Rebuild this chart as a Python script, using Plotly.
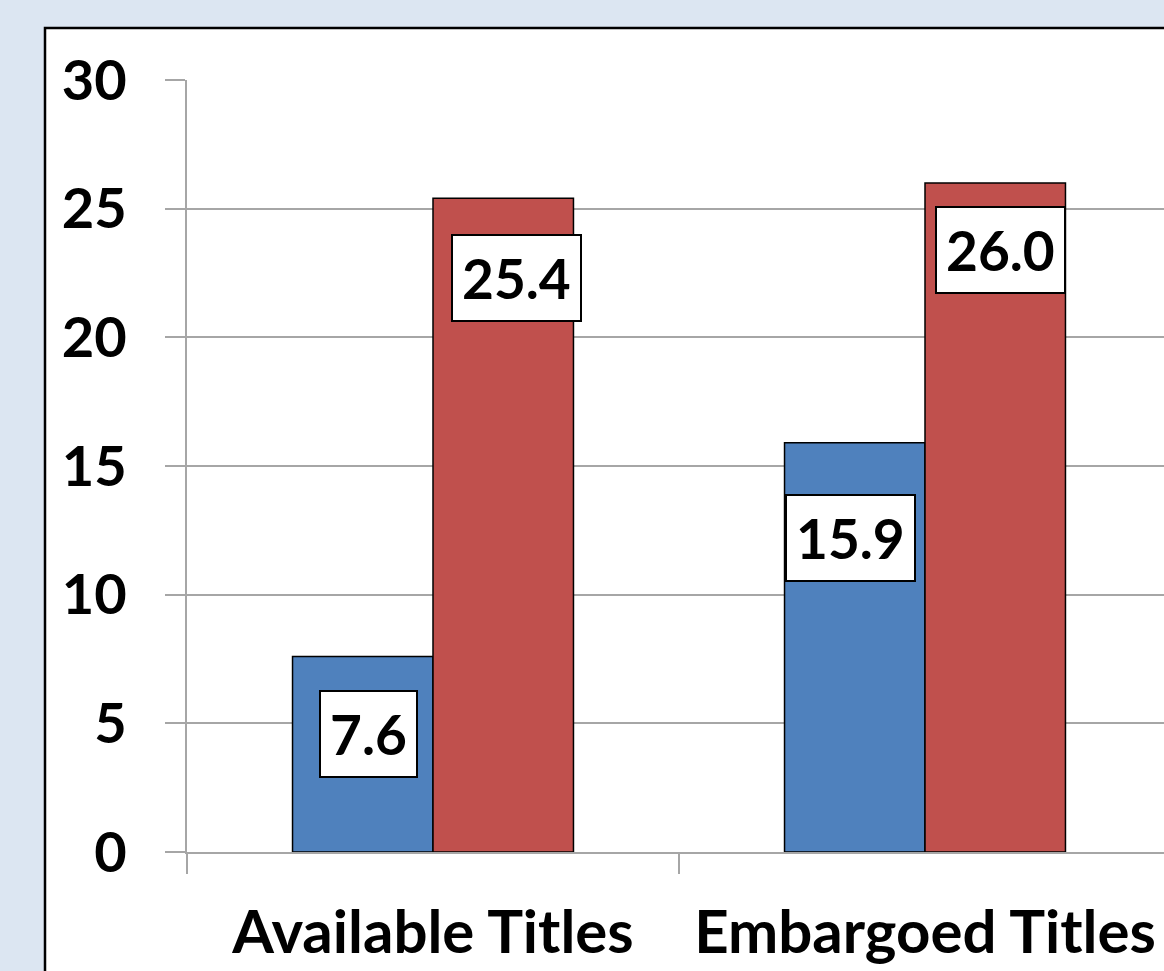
import plotly.graph_objects as go

categories = ["Available Titles", "Embargoed Titles"]
series_blue = [7.6, 15.9]
series_red = [25.4, 26.0]
y_ticks = [0, 5, 10, 15, 20, 25, 30]

BLUE = "#4f81bd"
RED = "#c0504d"
GRID = "#a6a6a6"
FONT = "Lato"

BARGAP = 0.429
bar_w = (1 - BARGAP) / 2

fig = go.Figure()
fig.add_trace(go.Bar(x=categories, y=series_blue, marker=dict(color=BLUE, line=dict(color="black", width=1.5)),
                     name="blue", showlegend=False, hoverinfo="skip"))
fig.add_trace(go.Bar(x=categories, y=series_red, marker=dict(color=RED, line=dict(color="black", width=1.5)),
                     name="red", showlegend=False, hoverinfo="skip"))

# label offsets (manual placement like the original)
label_shift = {
    ("blue", 0): (6, -34), ("blue", 1): (-4, -51),
    ("red", 0): (13, -36), ("red", 1): (5, -23),
}
for name, vals, off in [("blue", series_blue, -bar_w / 2), ("red", series_red, bar_w / 2)]:
    for i, v in enumerate(vals):
        xs, ys = label_shift[(name, i)]
        fig.add_annotation(x=i + off, y=v, xref="x", yref="y", text=f"{v:.1f}",
                           showarrow=False, xanchor="center", yanchor="top",
                           xshift=xs, yshift=ys,
                           font=dict(family=FONT, size=55, color="black", weight="bold"),
                           bgcolor="white", bordercolor="black", borderwidth=2, borderpad=9)

# chart area (white box with black border)
W, H = 1164, 971
L, R, T, B = 187, 0, 80, 119
pw, ph = W - L - R, H - T - B
fig.add_shape(type="rect", xref="paper", yref="paper",
              x0=(45 - L) / pw, x1=1.2, y0=-0.3, y1=(H - B - 28) / ph,
              fillcolor="white", line=dict(color="black", width=2.5), layer="below")

fig.update_layout(
    width=W, height=H,
    margin=dict(l=L, r=R, t=T, b=B, pad=0),
    paper_bgcolor="#dce6f2", plot_bgcolor="white",
    barmode="group", bargap=BARGAP, bargroupgap=0,
    font=dict(family=FONT, color="black"),
)
fig.update_xaxes(type="category", range=[-0.5, -0.5 + pw / 492],
                 showline=True, linecolor=GRID, linewidth=2,
                 ticks="outside", tickson="boundaries", ticklen=20, tickcolor=GRID, tickwidth=2,
                 tickfont=dict(family=FONT, size=60, color="black", weight="bold"),
                 ticklabelstandoff=27, showgrid=False)
fig.update_yaxes(range=[0, 30], tickvals=y_ticks, showline=True, linecolor=GRID, linewidth=2,
                 ticks="outside", ticklen=20, tickcolor=GRID, tickwidth=2,
                 showgrid=True, gridcolor=GRID, gridwidth=2, zeroline=False,
                 tickfont=dict(family=FONT, size=56, color="black", weight="bold"),
                 ticklabelstandoff=27)

fig.write_html("out.html", config={"displayModeBar": False},
               post_script="document.body.style.margin='0';document.body.style.overflow='hidden';")
